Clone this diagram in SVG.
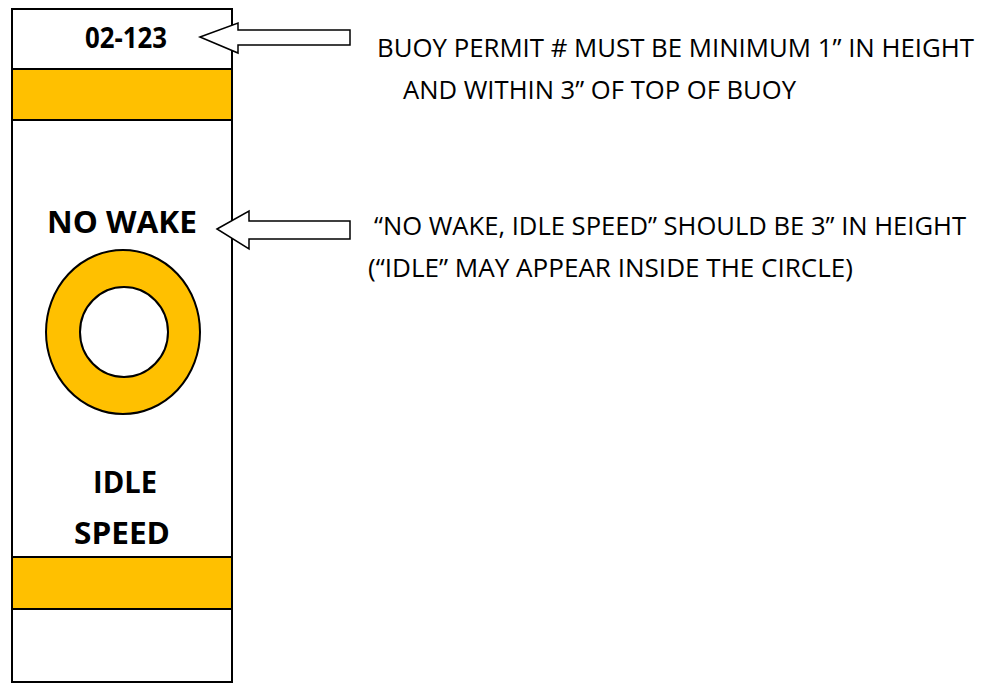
<svg xmlns="http://www.w3.org/2000/svg" width="992" height="684" viewBox="0 0 992 684">
<style>
.ln{stroke:#000;stroke-width:2;}
.band{fill:#FFC000;stroke:#000;stroke-width:2;}
.arrow{fill:#fff;stroke:#000;stroke-width:1.5;stroke-linejoin:miter;}
.b{font-family:"Open Sans","Noto Sans","Liberation Sans",sans-serif;font-weight:bold;fill:#000;}
.n{font-family:"Open Sans","Noto Sans","Liberation Sans",sans-serif;fill:#000;font-size:25px;}
</style>
<rect width="992" height="684" fill="#fff"/>
<g id="buoy">
<rect x="12" y="9" width="220" height="673" fill="#fff" class="ln"/>
<rect x="12" y="69" width="220" height="51" class="band"/>
<rect x="12" y="557" width="220" height="52" class="band"/>
<ellipse cx="123" cy="332" rx="77" ry="82" class="band"/>
<ellipse cx="124" cy="332" rx="44" ry="45" fill="#fff" class="ln"/>
<text class="b" x="85" y="48" font-size="28" textLength="82" lengthAdjust="spacingAndGlyphs">02-123</text>
<text class="b" x="47" y="233" font-size="31" textLength="150" lengthAdjust="spacingAndGlyphs">NO WAKE</text>
<text class="b" x="93" y="493" font-size="31" textLength="64" lengthAdjust="spacingAndGlyphs">IDLE</text>
<text class="b" x="74" y="544" font-size="31" textLength="96" lengthAdjust="spacingAndGlyphs">SPEED</text>
</g>
<g id="connectors">
<polygon class="arrow" points="200,37 238,23 238,30 350,30 350,45 238,45 238,53"/>
<polygon class="arrow" points="217,229 249,211 249,221 350,221 350,239 249,239 249,249"/>
</g>
<g id="note1">
<text class="n" x="377" y="57" textLength="597" lengthAdjust="spacingAndGlyphs">BUOY PERMIT # MUST BE MINIMUM 1” IN HEIGHT</text>
<text class="n" x="403" y="99" textLength="393" lengthAdjust="spacingAndGlyphs">AND WITHIN 3” OF TOP OF BUOY</text>
</g>
<g id="note2">
<text class="n" x="374" y="234.5" textLength="592" lengthAdjust="spacingAndGlyphs">“NO WAKE, IDLE SPEED” SHOULD BE 3” IN HEIGHT</text>
<text class="n" x="368" y="277" textLength="485" lengthAdjust="spacingAndGlyphs">(“IDLE” MAY APPEAR INSIDE THE CIRCLE)</text>
</g>
</svg>
